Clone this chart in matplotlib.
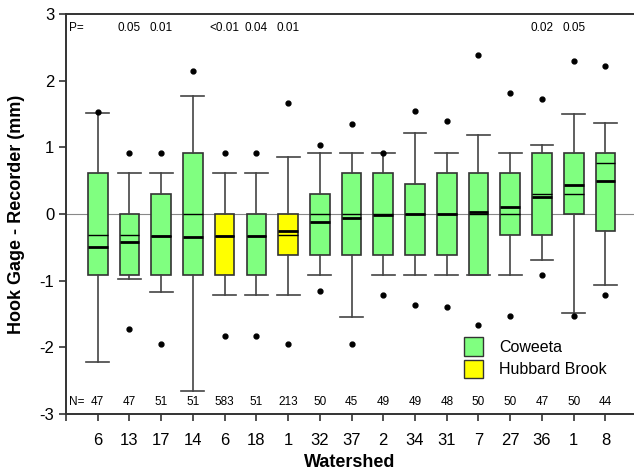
import matplotlib
matplotlib.use('Agg')
import matplotlib.pyplot as plt
from matplotlib.patches import Patch

plt.rcParams['font.family'] = ['Liberation Sans', 'DejaVu Sans']

# Datos
watersheds = ['6', '13', '17', '14', '6', '18', '1', '32', '37', '2', '34', '31', '7', '27', '36', '1', '8']
site = ['C', 'C', 'C', 'C', 'H', 'C', 'H', 'C', 'C', 'C', 'C', 'C', 'C', 'C', 'C', 'C', 'C']
n_obs = [47, 47, 51, 51, 583, 51, 213, 50, 45, 49, 49, 48, 50, 50, 47, 50, 44]
p_vals = ['', '0.05', '0.01', '', '<0.01', '0.04', '0.01', '', '', '', '', '', '', '', '0.02', '0.05', '']

q1 = [-0.92, -0.92, -0.92, -0.92, -0.92, -0.92, -0.61, -0.61, -0.61, -0.61, -0.61, -0.61, -0.92, -0.31, -0.31, 0.0, -0.25]
q3 = [0.61, 0.0, 0.30, 0.91, 0.0, 0.0, 0.0, 0.30, 0.61, 0.61, 0.45, 0.61, 0.61, 0.61, 0.91, 0.91, 0.91]
medians = [-0.31, -0.31, -0.33, 0.0, -0.33, -0.33, -0.32, 0.0, 0.0, 0.0, 0.0, 0.0, 0.0, 0.0, 0.30, 0.30, 0.76]
means = [-0.50, -0.42, -0.33, -0.35, -0.33, -0.33, -0.26, -0.12, -0.06, -0.01, 0.0, 0.0, 0.03, 0.11, 0.25, 0.44, 0.50]
whis_lo = [-2.22, -0.97, -1.17, -2.65, -1.22, -1.22, -1.22, -0.92, -1.55, -0.92, -0.92, -0.92, -0.92, -0.92, -0.69, -1.48, -1.07]
whis_hi = [1.52, 0.61, 0.61, 1.77, 0.61, 0.61, 0.85, 0.91, 0.91, 0.91, 1.22, 0.91, 1.19, 0.91, 1.03, 1.50, 1.37]
out_hi = [1.53, 0.92, 0.92, 2.14, 0.92, 0.92, 1.66, 1.04, 1.35, 0.92, 1.54, 1.40, 2.39, 1.81, 1.72, 2.29, 2.22]
out_lo = [None, -1.72, -1.95, None, -1.83, -1.83, -1.95, -1.16, -1.95, -1.22, -1.37, -1.39, -1.66, -1.53, -0.92, -1.53, -1.22]

colores = {'C': '#80ff80', 'H': '#ffff00'}

stats = []
for i in range(len(watersheds)):
    fl = [out_hi[i]]
    if out_lo[i] is not None:
        fl.append(out_lo[i])
    stats.append({'med': medians[i], 'q1': q1[i], 'q3': q3[i], 'mean': means[i],
                  'whislo': whis_lo[i], 'whishi': whis_hi[i], 'fliers': fl})

fig = plt.figure(figsize=(6.34, 4.73), dpi=100)
ax = fig.add_axes([0.104, 0.125, 0.896, 0.845])

ax.axhline(0, color='#888888', lw=0.8, zorder=0)

pos = list(range(1, len(watersheds) + 1))
bp = ax.bxp(stats, positions=pos, widths=0.62, patch_artist=True,
            showmeans=True, meanline=True, capwidths=0.72,
            boxprops=dict(edgecolor='#333333', linewidth=1.2),
            medianprops=dict(color='black', linewidth=1.0),
            meanprops=dict(color='black', linewidth=2.0, linestyle='-'),
            whiskerprops=dict(color='#444444', linewidth=1.2),
            capprops=dict(color='#444444', linewidth=1.2),
            flierprops=dict(marker='o', markerfacecolor='black', markeredgecolor='black', markersize=3.5))
for caja, s in zip(bp['boxes'], site):
    caja.set_facecolor(colores[s])

# textos P= y N=
ax.text(0.1, 2.8, 'P=', fontsize=8.5, va='center', ha='left')
ax.text(0.1, -2.82, 'N=', fontsize=8.5, va='center', ha='left')
for x, p, n in zip(pos, p_vals, n_obs):
    if p:
        ax.text(x, 2.8, p, fontsize=8.5, va='center', ha='center')
    ax.text(x, -2.82, str(n), fontsize=8.5, va='center', ha='center')

ax.set_xlim(0, 17.9)
ax.set_ylim(-3, 3)
ax.set_xticks([0] + pos)
ax.set_xticklabels([''] + watersheds, fontsize=12)
ax.set_yticks(range(-3, 4))
ax.set_yticklabels([str(v) for v in range(-3, 4)], fontsize=12)
ax.tick_params(direction='out', length=5, width=1.2, color='#333333')
ax.tick_params(axis='x', pad=9)
for lado in ['left', 'bottom', 'top']:
    ax.spines[lado].set_linewidth(1.4)
    ax.spines[lado].set_color('#333333')
ax.spines['right'].set_visible(False)

ax.set_xlabel('Watershed', fontsize=13, fontweight='bold', labelpad=4)
ax.set_ylabel('Hook Gage - Recorder (mm)', fontsize=13, fontweight='bold', labelpad=10)

handles = [Patch(facecolor=colores['C'], edgecolor='#333333', label='Coweeta'),
           Patch(facecolor=colores['H'], edgecolor='#333333', label='Hubbard Brook')]
ax.legend(handles=handles, loc='upper left', bbox_to_anchor=(0.675, 0.228), frameon=False,
          fontsize=11.5, handlelength=1.2, handleheight=1.4, labelspacing=0.25, handletextpad=1.0)

plt.savefig('out.png', dpi=100)
